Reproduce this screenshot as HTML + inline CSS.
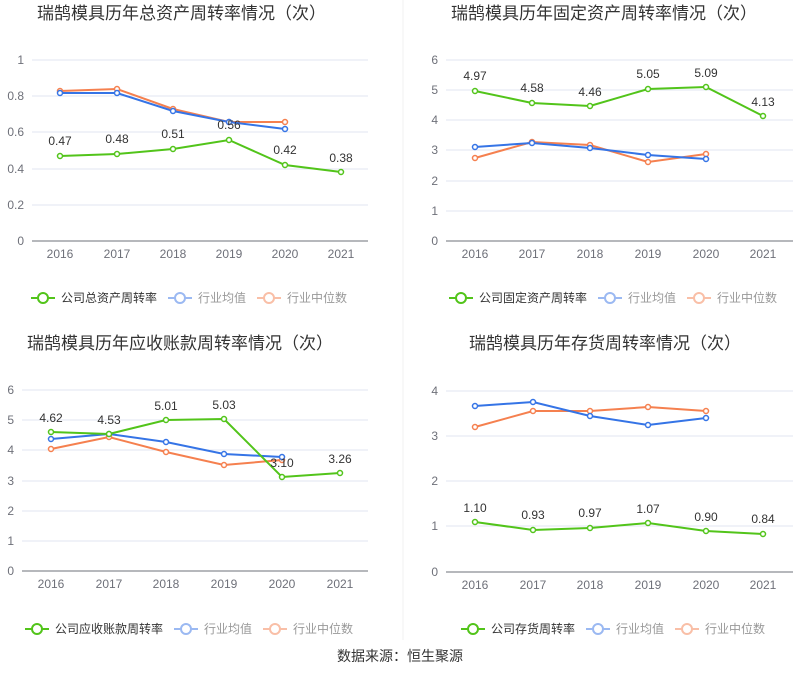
<!DOCTYPE html>
<html><head><meta charset="utf-8"><style>
body{margin:0;background:#fff;}
svg{font-family:"Liberation Sans","Noto Sans CJK SC",sans-serif;}
.t{font-size:17px;fill:#333;}
.ax{font-size:12px;fill:#6e7079;}
.lb{font-size:12px;fill:#333;}
.lg{font-size:12px;fill:#333;}
.lgg{font-size:12px;fill:#999;}
.g{stroke:#e0e6f1;stroke-width:1;}
.a{stroke:#6e7079;stroke-width:1;}
.gr{fill:none;stroke:#52c41a;stroke-width:2;}
.bl{fill:none;stroke:#3574e6;stroke-width:2;}
.or{fill:none;stroke:#f5804f;stroke-width:2;}
.mg{fill:#fff;stroke:#52c41a;stroke-width:1.5;}
.mb{fill:#fff;stroke:#3574e6;stroke-width:1.5;}
.mo{fill:#fff;stroke:#f5804f;stroke-width:1.5;}
</style></head><body>
<svg width="800" height="689" viewBox="0 0 800 689">
<line x1="403" y1="0" x2="403" y2="640" stroke="#f0f0f0"/>
<!-- Chart 1 -->
<text class="t" x="37" y="19">瑞鹄模具历年总资产周转率情况（次）</text>
<g class="g"><line x1="32" x2="368" y1="205" y2="205"/><line x1="32" x2="368" y1="169" y2="169"/><line x1="32" x2="368" y1="132" y2="132"/><line x1="32" x2="368" y1="96" y2="96"/><line x1="32" x2="368" y1="60" y2="60"/></g>
<line class="a" x1="32" x2="368" y1="241" y2="241"/>
<g class="ax" text-anchor="end"><text x="24" y="245">0</text><text x="24" y="209">0.2</text><text x="24" y="173">0.4</text><text x="24" y="136">0.6</text><text x="24" y="100">0.8</text><text x="24" y="64">1</text></g>
<g class="ax" text-anchor="middle"><text x="60" y="258">2016</text><text x="117" y="258">2017</text><text x="173" y="258">2018</text><text x="229" y="258">2019</text><text x="285" y="258">2020</text><text x="341" y="258">2021</text></g>
<polyline class="or" points="60,91 117,89 173,109 229,122 285,122"/>
<polyline class="bl" points="60,93 117,93 173,111 229,122 285,129"/>
<polyline class="gr" points="60,156 117,154 173,149 229,140 285,165 341,172"/>
<g class="mo"><circle cx="60" cy="91" r="2.5"/><circle cx="117" cy="89" r="2.5"/><circle cx="173" cy="109" r="2.5"/><circle cx="229" cy="122" r="2.5"/><circle cx="285" cy="122" r="2.5"/></g>
<g class="mb"><circle cx="60" cy="93" r="2.5"/><circle cx="117" cy="93" r="2.5"/><circle cx="173" cy="111" r="2.5"/><circle cx="229" cy="122" r="2.5"/><circle cx="285" cy="129" r="2.5"/></g>
<g class="mg"><circle cx="60" cy="156" r="2.5"/><circle cx="117" cy="154" r="2.5"/><circle cx="173" cy="149" r="2.5"/><circle cx="229" cy="140" r="2.5"/><circle cx="285" cy="165" r="2.5"/><circle cx="341" cy="172" r="2.5"/></g>
<g class="lb" text-anchor="middle"><text x="60" y="145">0.47</text><text x="117" y="143">0.48</text><text x="173" y="138">0.51</text><text x="229" y="129">0.56</text><text x="285" y="154">0.42</text><text x="341" y="162">0.38</text></g>
<g><line x1="31" x2="55" y1="298" y2="298" stroke="#52c41a" stroke-width="2"/><circle cx="43" cy="298" r="5" fill="#fff" stroke="#52c41a" stroke-width="2"/><text class="lg" x="61" y="302">公司总资产周转率</text>
<line x1="168" x2="192" y1="298" y2="298" stroke="#9bb9f2" stroke-width="2"/><circle cx="180" cy="298" r="5" fill="#fff" stroke="#9bb9f2" stroke-width="2"/><text class="lgg" x="198" y="302">行业均值</text>
<line x1="257" x2="281" y1="298" y2="298" stroke="#f9bfa7" stroke-width="2"/><circle cx="269" cy="298" r="5" fill="#fff" stroke="#f9bfa7" stroke-width="2"/><text class="lgg" x="287" y="302">行业中位数</text></g>

<!-- Chart 2 -->
<text class="t" x="451" y="19">瑞鹄模具历年固定资产周转率情况（次）</text>
<g class="g"><line x1="446" x2="793" y1="211" y2="211"/><line x1="446" x2="793" y1="181" y2="181"/><line x1="446" x2="793" y1="150" y2="150"/><line x1="446" x2="793" y1="120" y2="120"/><line x1="446" x2="793" y1="90" y2="90"/><line x1="446" x2="793" y1="60" y2="60"/></g>
<line class="a" x1="446" x2="793" y1="241" y2="241"/>
<g class="ax" text-anchor="end"><text x="438" y="245">0</text><text x="438" y="215">1</text><text x="438" y="185">2</text><text x="438" y="154">3</text><text x="438" y="124">4</text><text x="438" y="94">5</text><text x="438" y="64">6</text></g>
<g class="ax" text-anchor="middle"><text x="475" y="258">2016</text><text x="532" y="258">2017</text><text x="590" y="258">2018</text><text x="648" y="258">2019</text><text x="706" y="258">2020</text><text x="763" y="258">2021</text></g>
<polyline class="or" points="475,158 532,142 590,145 648,162 706,154"/>
<polyline class="bl" points="475,147 532,143 590,148 648,155 706,159"/>
<polyline class="gr" points="475,91 532,103 590,106 648,89 706,87 763,116"/>
<g class="mo"><circle cx="475" cy="158" r="2.5"/><circle cx="532" cy="142" r="2.5"/><circle cx="590" cy="145" r="2.5"/><circle cx="648" cy="162" r="2.5"/><circle cx="706" cy="154" r="2.5"/></g>
<g class="mb"><circle cx="475" cy="147" r="2.5"/><circle cx="532" cy="143" r="2.5"/><circle cx="590" cy="148" r="2.5"/><circle cx="648" cy="155" r="2.5"/><circle cx="706" cy="159" r="2.5"/></g>
<g class="mg"><circle cx="475" cy="91" r="2.5"/><circle cx="532" cy="103" r="2.5"/><circle cx="590" cy="106" r="2.5"/><circle cx="648" cy="89" r="2.5"/><circle cx="706" cy="87" r="2.5"/><circle cx="763" cy="116" r="2.5"/></g>
<g class="lb" text-anchor="middle"><text x="475" y="80">4.97</text><text x="532" y="92">4.58</text><text x="590" y="96">4.46</text><text x="648" y="78">5.05</text><text x="706" y="77">5.09</text><text x="763" y="106">4.13</text></g>
<g><line x1="449" x2="473" y1="298" y2="298" stroke="#52c41a" stroke-width="2"/><circle cx="461" cy="298" r="5" fill="#fff" stroke="#52c41a" stroke-width="2"/><text class="lg" x="479" y="302">公司固定资产周转率</text>
<line x1="598" x2="622" y1="298" y2="298" stroke="#9bb9f2" stroke-width="2"/><circle cx="610" cy="298" r="5" fill="#fff" stroke="#9bb9f2" stroke-width="2"/><text class="lgg" x="628" y="302">行业均值</text>
<line x1="687" x2="711" y1="298" y2="298" stroke="#f9bfa7" stroke-width="2"/><circle cx="699" cy="298" r="5" fill="#fff" stroke="#f9bfa7" stroke-width="2"/><text class="lgg" x="717" y="302">行业中位数</text></g>

<!-- Chart 3 -->
<text class="t" x="27" y="349">瑞鹄模具历年应收账款周转率情况（次）</text>
<g class="g"><line x1="22" x2="368" y1="541" y2="541"/><line x1="22" x2="368" y1="511" y2="511"/><line x1="22" x2="368" y1="481" y2="481"/><line x1="22" x2="368" y1="450" y2="450"/><line x1="22" x2="368" y1="420" y2="420"/><line x1="22" x2="368" y1="390" y2="390"/></g>
<line class="a" x1="22" x2="368" y1="571" y2="571"/>
<g class="ax" text-anchor="end"><text x="14" y="575">0</text><text x="14" y="545">1</text><text x="14" y="515">2</text><text x="14" y="485">3</text><text x="14" y="454">4</text><text x="14" y="424">5</text><text x="14" y="394">6</text></g>
<g class="ax" text-anchor="middle"><text x="51" y="588">2016</text><text x="109" y="588">2017</text><text x="166" y="588">2018</text><text x="224" y="588">2019</text><text x="282" y="588">2020</text><text x="340" y="588">2021</text></g>
<polyline class="or" points="51,449 109,437 166,452 224,465 282,460"/>
<polyline class="bl" points="51,439 109,434 166,442 224,454 282,457"/>
<polyline class="gr" points="51,432 109,434 166,420 224,419 282,477 340,473"/>
<g class="mo"><circle cx="51" cy="449" r="2.5"/><circle cx="109" cy="437" r="2.5"/><circle cx="166" cy="452" r="2.5"/><circle cx="224" cy="465" r="2.5"/><circle cx="282" cy="460" r="2.5"/></g>
<g class="mb"><circle cx="51" cy="439" r="2.5"/><circle cx="109" cy="434" r="2.5"/><circle cx="166" cy="442" r="2.5"/><circle cx="224" cy="454" r="2.5"/><circle cx="282" cy="457" r="2.5"/></g>
<g class="mg"><circle cx="51" cy="432" r="2.5"/><circle cx="109" cy="434" r="2.5"/><circle cx="166" cy="420" r="2.5"/><circle cx="224" cy="419" r="2.5"/><circle cx="282" cy="477" r="2.5"/><circle cx="340" cy="473" r="2.5"/></g>
<g class="lb" text-anchor="middle"><text x="51" y="422">4.62</text><text x="109" y="424">4.53</text><text x="166" y="410">5.01</text><text x="224" y="409">5.03</text><text x="282" y="467">3.10</text><text x="340" y="463">3.26</text></g>
<g><line x1="25" x2="49" y1="629" y2="629" stroke="#52c41a" stroke-width="2"/><circle cx="37" cy="629" r="5" fill="#fff" stroke="#52c41a" stroke-width="2"/><text class="lg" x="55" y="633">公司应收账款周转率</text>
<line x1="174" x2="198" y1="629" y2="629" stroke="#9bb9f2" stroke-width="2"/><circle cx="186" cy="629" r="5" fill="#fff" stroke="#9bb9f2" stroke-width="2"/><text class="lgg" x="204" y="633">行业均值</text>
<line x1="263" x2="287" y1="629" y2="629" stroke="#f9bfa7" stroke-width="2"/><circle cx="275" cy="629" r="5" fill="#fff" stroke="#f9bfa7" stroke-width="2"/><text class="lgg" x="293" y="633">行业中位数</text></g>

<!-- Chart 4 -->
<text class="t" x="469" y="349">瑞鹄模具历年存货周转率情况（次）</text>
<g class="g"><line x1="446" x2="793" y1="526" y2="526"/><line x1="446" x2="793" y1="481" y2="481"/><line x1="446" x2="793" y1="436" y2="436"/><line x1="446" x2="793" y1="391" y2="391"/></g>
<line class="a" x1="446" x2="793" y1="572" y2="572"/>
<g class="ax" text-anchor="end"><text x="438" y="576">0</text><text x="438" y="530">1</text><text x="438" y="485">2</text><text x="438" y="440">3</text><text x="438" y="395">4</text></g>
<g class="ax" text-anchor="middle"><text x="475" y="589">2016</text><text x="533" y="589">2017</text><text x="590" y="589">2018</text><text x="648" y="589">2019</text><text x="706" y="589">2020</text><text x="763" y="589">2021</text></g>
<polyline class="or" points="475,427 533,411 590,411 648,407 706,411"/>
<polyline class="bl" points="475,406 533,402 590,416 648,425 706,418"/>
<polyline class="gr" points="475,522 533,530 590,528 648,523 706,531 763,534"/>
<g class="mo"><circle cx="475" cy="427" r="2.5"/><circle cx="533" cy="411" r="2.5"/><circle cx="590" cy="411" r="2.5"/><circle cx="648" cy="407" r="2.5"/><circle cx="706" cy="411" r="2.5"/></g>
<g class="mb"><circle cx="475" cy="406" r="2.5"/><circle cx="533" cy="402" r="2.5"/><circle cx="590" cy="416" r="2.5"/><circle cx="648" cy="425" r="2.5"/><circle cx="706" cy="418" r="2.5"/></g>
<g class="mg"><circle cx="475" cy="522" r="2.5"/><circle cx="533" cy="530" r="2.5"/><circle cx="590" cy="528" r="2.5"/><circle cx="648" cy="523" r="2.5"/><circle cx="706" cy="531" r="2.5"/><circle cx="763" cy="534" r="2.5"/></g>
<g class="lb" text-anchor="middle"><text x="475" y="512">1.10</text><text x="533" y="519">0.93</text><text x="590" y="517">0.97</text><text x="648" y="513">1.07</text><text x="706" y="521">0.90</text><text x="763" y="523">0.84</text></g>
<g><line x1="461" x2="485" y1="629" y2="629" stroke="#52c41a" stroke-width="2"/><circle cx="473" cy="629" r="5" fill="#fff" stroke="#52c41a" stroke-width="2"/><text class="lg" x="491" y="633">公司存货周转率</text>
<line x1="586" x2="610" y1="629" y2="629" stroke="#9bb9f2" stroke-width="2"/><circle cx="598" cy="629" r="5" fill="#fff" stroke="#9bb9f2" stroke-width="2"/><text class="lgg" x="616" y="633">行业均值</text>
<line x1="675" x2="699" y1="629" y2="629" stroke="#f9bfa7" stroke-width="2"/><circle cx="687" cy="629" r="5" fill="#fff" stroke="#f9bfa7" stroke-width="2"/><text class="lgg" x="705" y="633">行业中位数</text></g>

<text x="400" y="661" text-anchor="middle" style="font-size:14px;fill:#333">数据来源：恒生聚源</text>
</svg>
</body></html>
